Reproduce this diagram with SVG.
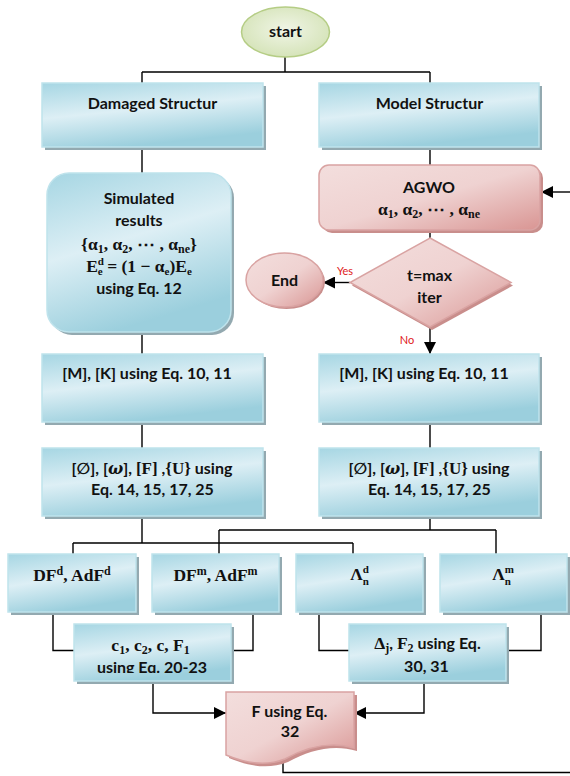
<svg xmlns="http://www.w3.org/2000/svg" width="570" height="776" viewBox="0 0 570 776">
<style>
.t{font-family:Lato,"Open Sans","DejaVu Sans",sans-serif;font-weight:bold;font-size:16px;fill:#111;text-anchor:middle}
.m{font-family:"Liberation Serif","DejaVu Serif",serif;font-weight:bold;font-size:17.5px;fill:#111;text-anchor:middle}
.s{font-size:12px}
.ss{font-size:11px}
.lbl{font-family:Lato,"Open Sans",sans-serif;font-size:11px;fill:#e02020;text-anchor:middle}
.blue{fill:url(#gb);stroke:#bfe3ec;stroke-width:1.5}
.bsh{fill:#93a9b0}
.pink{fill:url(#gp);stroke:#d9a3a2;stroke-width:1.5}
.psh{fill:#c98e8c}
.c{fill:none;stroke:#000;stroke-width:1.4}
.ca{fill:none;stroke:#000;stroke-width:1.4;marker-end:url(#ah)}
</style>
<defs>
<linearGradient id="gb" x1="0" y1="0" x2="0.35" y2="1">
<stop offset="0" stop-color="#a6d6e3"/>
<stop offset="0.5" stop-color="#ddeff5"/>
<stop offset="1" stop-color="#9bcfdd"/>
</linearGradient>
<linearGradient id="gp" x1="0" y1="0" x2="1" y2="1">
<stop offset="0" stop-color="#f3dedd"/>
<stop offset="0.5" stop-color="#efd2d1"/>
<stop offset="1" stop-color="#d99593"/>
</linearGradient>
<radialGradient id="gg" cx="0.5" cy="0.45" r="0.6">
<stop offset="0" stop-color="#f0f5e6"/>
<stop offset="1" stop-color="#d3e2b5"/>
</radialGradient>
<marker id="ah" markerUnits="userSpaceOnUse" markerWidth="14" markerHeight="12" refX="12" refY="6" orient="auto">
<path d="M0,0 L12,6 L0,12 Z" fill="#000"/>
</marker>
<clipPath id="clipc1"><rect x="74" y="624" width="157" height="49"/></clipPath>
</defs>

<g id="connectors">
<path class="c" d="M285,57 V72 M142,72 H430 M142,72 V83 M430,72 V83"/>
<path class="c" d="M142,147 V173"/>
<path class="c" d="M430,147 V165"/>
<path class="c" d="M430,230 V238"/>
<path class="ca" d="M570,192 H541"/>
<path class="ca" d="M350,282.5 H323"/>
<path class="ca" d="M430,327 V354"/>
<path class="c" d="M142,332 V354"/>
<path class="c" d="M142,422 V448 M430,422 V448"/>
<path class="c" d="M142,516 V543 M73,543 H353 M73,543 V554 M353,543 V554"/>
<path class="c" d="M430,516 V530 M219,530 H496 M219,530 V554 M496,530 V554"/>
<path class="c" d="M53,612 V650.5 H74 M253,612 V650.5 H231"/>
<path class="c" d="M319,612 V650.5 H349 M541,612 V650.5 H506"/>
<path class="ca" d="M153,681 V713 H226"/>
<path class="ca" d="M424,681 V713 H354"/>
<path class="c" d="M283,760 V772.5 H570"/>
</g>

<g id="start">
<ellipse cx="285.5" cy="32" rx="44" ry="25" fill="url(#gg)" stroke="#b5cd85" stroke-width="1.5"/>
<text class="t" x="285.5" y="37">start</text>
</g>

<g id="damaged">
<rect class="bsh" x="45" y="86" width="221" height="64"/>
<rect class="blue" x="42" y="83" width="221" height="64"/>
<text class="t" x="152.5" y="108.5">Damaged Structur</text>
</g>

<g id="model">
<rect class="bsh" x="322" y="86" width="220" height="64"/>
<rect class="blue" x="319" y="83" width="220" height="64"/>
<text class="t" x="429.5" y="108.5">Model Structur</text>
</g>

<g id="simulated">
<rect class="bsh" x="50" y="176" width="184" height="159" rx="22"/>
<rect class="blue" x="47" y="173" width="184" height="159" rx="22"/>
<text class="t" x="139" y="203.5">Simulated</text>
<text class="t" x="139" y="225.5">results</text>
<text class="m" x="139" y="250">{α<tspan class="s" dy="3">1</tspan><tspan dy="-3">, α</tspan><tspan class="s" dy="3">2</tspan><tspan dy="-3">, ⋯ , α</tspan><tspan class="s" dy="3">ne</tspan><tspan dy="-3">}</tspan></text>
<text class="m" x="139" y="272">E<tspan class="ss" dy="-7">d</tspan><tspan class="ss" dx="-6.1" dy="10">e</tspan><tspan dy="-3"> = (1 − α</tspan><tspan class="ss" dy="3">e</tspan><tspan dy="-3">)E</tspan><tspan class="ss" dy="3">e</tspan></text>
<text class="t" x="139" y="294">using Eq. 12</text>
</g>

<g id="agwo">
<rect class="psh" x="322" y="168" width="221" height="65" rx="10"/>
<rect class="pink" x="319" y="165" width="221" height="65" rx="10"/>
<text class="t" x="429" y="192.5">AGWO</text>
<text class="m" x="429" y="215">α<tspan class="s" dy="3">1</tspan><tspan dy="-3">, α</tspan><tspan class="s" dy="3">2</tspan><tspan dy="-3">, ⋯ , α</tspan><tspan class="s" dy="3">ne</tspan></text>
</g>

<g id="decision">
<polygon class="psh" points="432,241 513,285.5 432,330 352,285.5"/>
<polygon class="pink" points="430,238 511,282.5 430,327 350,282.5"/>
<text class="t" x="429.5" y="280.5">t=max</text>
<text class="t" x="429.5" y="302.5">iter</text>
<text class="lbl" x="345" y="275">Yes</text>
<text class="lbl" x="407" y="344">No</text>
</g>

<g id="end">
<ellipse class="psh" cx="286.5" cy="282" rx="38.5" ry="27"/>
<ellipse class="pink" cx="284.5" cy="280" rx="38.5" ry="27"/>
<text class="t" x="284.5" y="285.5">End</text>
</g>

<g id="mk-d">
<rect class="bsh" x="45" y="357" width="221" height="68"/>
<rect class="blue" x="42" y="354" width="221" height="68"/>
<text class="t" x="147" y="378.5">[M], [K] using Eq. 10, 11</text>
</g>

<g id="mk-m">
<rect class="bsh" x="322" y="357" width="220" height="68"/>
<rect class="blue" x="319" y="354" width="220" height="68"/>
<text class="t" x="424" y="378.5">[M], [K] using Eq. 10, 11</text>
</g>

<g id="modes-d">
<rect class="bsh" x="45" y="451" width="221" height="68"/>
<rect class="blue" x="42" y="448" width="221" height="68"/>
<text class="t" x="152" y="473.5">[∅], [<tspan font-family="DejaVu Serif,serif" font-style="italic">ω</tspan>], <tspan font-family="Liberation Serif,serif" font-size="17">[F]</tspan> ,<tspan font-family="Liberation Serif,serif" font-size="17">{U}</tspan> using</text>
<text class="t" x="152.5" y="494.5">Eq. 14, 15, 17, 25</text>
</g>

<g id="modes-m">
<rect class="bsh" x="322" y="451" width="220" height="68"/>
<rect class="blue" x="319" y="448" width="220" height="68"/>
<text class="t" x="429" y="473.5">[∅], [<tspan font-family="DejaVu Serif,serif" font-style="italic">ω</tspan>], <tspan font-family="Liberation Serif,serif" font-size="17">[F]</tspan> ,<tspan font-family="Liberation Serif,serif" font-size="17">{U}</tspan> using</text>
<text class="t" x="429.5" y="494.5">Eq. 14, 15, 17, 25</text>
</g>

<g id="df-d">
<rect class="bsh" x="11" y="557" width="128" height="58"/>
<rect class="blue" x="8" y="554" width="128" height="58"/>
<text class="m" x="72" y="581">DF<tspan class="s" dy="-6">d</tspan><tspan dy="6">, AdF</tspan><tspan class="s" dy="-6">d</tspan></text>
</g>

<g id="df-m">
<rect class="bsh" x="155" y="557" width="127" height="58"/>
<rect class="blue" x="152" y="554" width="127" height="58"/>
<text class="m" x="215.5" y="581">DF<tspan class="s" dy="-6">m</tspan><tspan dy="6">, AdF</tspan><tspan class="s" dy="-6">m</tspan></text>
</g>

<g id="lambda-d">
<rect class="bsh" x="299" y="557" width="127" height="58"/>
<rect class="blue" x="296" y="554" width="127" height="58"/>
<text class="m" x="359.5" y="580">Λ<tspan class="ss" dy="-7">d</tspan><tspan class="ss" dx="-6.1" dy="12">n</tspan></text>
</g>

<g id="lambda-m">
<rect class="bsh" x="443" y="557" width="127" height="58"/>
<rect class="blue" x="440" y="554" width="127" height="58"/>
<text class="m" x="503" y="580">Λ<tspan class="ss" dy="-7">m</tspan><tspan class="ss" dx="-9.2" dy="12">n</tspan></text>
</g>

<g id="c1">
<rect class="bsh" x="77" y="627" width="157" height="57"/>
<rect class="blue" x="74" y="624" width="157" height="57"/>
<text class="m" x="150.5" y="650.5">c<tspan class="s" dy="3">1</tspan><tspan dy="-3">, c</tspan><tspan class="s" dy="3">2</tspan><tspan dy="-3">, c, F</tspan><tspan class="s" dy="3">1</tspan></text>
<text class="t" x="152" y="672.5" clip-path="url(#clipc1)">using Eq. 20-23</text>
</g>

<g id="delta">
<rect class="bsh" x="352" y="627" width="157" height="57"/>
<rect class="blue" x="349" y="624" width="157" height="57"/>
<text class="t" x="427.5" y="648.5"><tspan font-family="Liberation Serif,serif" font-size="17.5">Δ</tspan><tspan font-family="Liberation Serif,serif" class="s" dy="3">j</tspan><tspan dy="-3">, </tspan><tspan font-family="Liberation Serif,serif" font-size="17.5">F</tspan><tspan font-family="Liberation Serif,serif" class="s" dy="3">2</tspan><tspan dy="-3"> using Eq.</tspan></text>
<text class="t" x="426.5" y="671.5">30, 31</text>
</g>

<g id="fobj">
<path class="psh" d="M229,695 H357 V751 C333,744 310,750 288,762 C268,770 248,766 229,758 Z"/>
<path class="pink" d="M226,692 H354 V748 C330,741 307,747 285,759 C265,767 245,763 226,755 Z"/>
<text class="t" x="289.5" y="717">F using Eq.</text>
<text class="t" x="290" y="737">32</text>
</g>
</svg>
